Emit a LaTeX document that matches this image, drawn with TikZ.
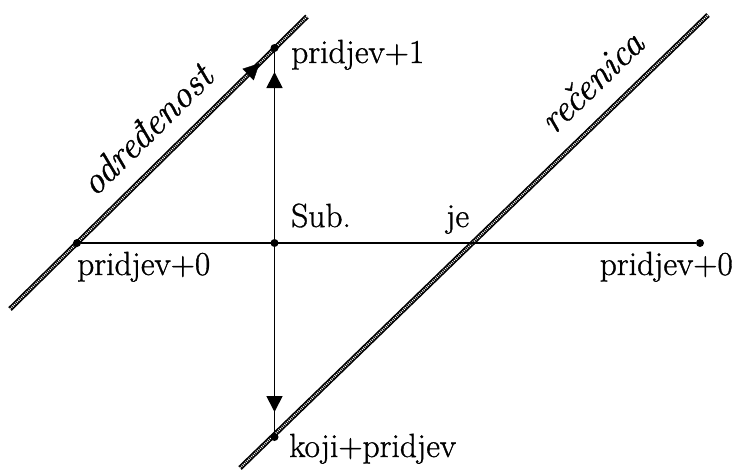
\documentclass[tikz,border=0pt]{standalone}
\usepackage{fontspec}
\newfontfamily\heavyrm[FakeBold=1]{Latin Modern Roman}
\usetikzlibrary{arrows.meta,decorations.markings}
\tikzset{mytip/.tip={Triangle[width=16pt,length=16pt]}}
\begin{document}
\begin{tikzpicture}[x=1pt,y=-1pt,
  dot/.style={circle,fill=black,inner sep=0pt,minimum size=8pt},
  thin line/.style={line width=1.7pt},
  rail/.style={line width=5pt,black},
  railin/.style={line width=1.9pt,white,dash pattern=on 0.8pt off 1.2pt},
  lbl/.style={inner sep=0pt,font=\heavyrm\fontsize{33.5}{38}\selectfont},
  ital/.style={inner sep=0pt,font=\heavyrm\fontsize{38}{44}\selectfont\itshape}]
\useasboundingbox (0,0) rectangle (735,471);
% coordinates of the rails
\coordinate (L1s) at (10,309);
\coordinate (L1e) at (307,16.5);
\coordinate (L2s) at (240,468);
\coordinate (L2e) at (708,15);
% rails
\draw[rail] (L1s) -- (L1e);
\draw[railin] (L1s) -- (L1e);
\draw[rail] (L2s) -- (L2e);
\draw[railin] (L2s) -- (L2e);
% arrow on left rail
\path[postaction={decorate,decoration={markings,
  mark=at position 0.84 with {\arrow{mytip}}}}] (L1s) -- (L1e);
% dots
\node[dot] (lft) at (77,243) {};
\node[dot] (ctr) at (274.5,243) {};
\node[dot] (top) at (274.5,48) {};
\node[dot] (rgt) at (700,243) {};
\node[dot] (bot) at (274.5,437) {};
% lines
\draw[thin line] (lft) -- (rgt);
\draw[thin line,postaction={decorate,decoration={markings,
  mark=at position 171pt with {\arrow{mytip}}}}] (ctr.center) -- (top.center);
\draw[thin line,postaction={decorate,decoration={markings,
  mark=at position 169pt with {\arrow{mytip}}}}] (ctr.center) -- (bot.center);
% labels
\node[lbl,anchor=base west] (p1) at (291,63) {pridjev+1};
\node[lbl,anchor=base west] (sub) at (291,227) {Sub.};
\node[lbl,anchor=base west] (je) at (446,227) {je};
\node[lbl,anchor=base west] (p0l) at (77,275) {pridjev+0};
\node[lbl,anchor=base east] (p0r) at (733,275) {pridjev+0};
\node[lbl,anchor=base west] (kp) at (289,457) {koji+pridjev};
% slanted labels
\path (L1s) -- (L1e) node[ital,pos=0.535,sloped,above=19pt] (odr) {određenost};
\path (L2s) -- (L2e) node[ital,pos=0.80,sloped,above=20pt] (rec) {rečenica};
\end{tikzpicture}
\end{document}
